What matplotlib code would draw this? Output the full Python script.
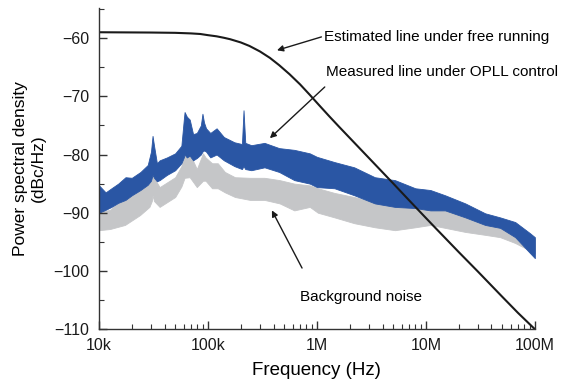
import matplotlib
matplotlib.use("Agg")
import matplotlib.pyplot as plt
from matplotlib.ticker import FixedLocator, LogLocator, NullFormatter, MultipleLocator

plt.rcParams['font.family'] = ['Liberation Sans', 'DejaVu Sans']

# estimated free-running line
est_freq = [1e4, 3e4, 5e4, 7e4, 8.5e4, 1e5, 1.2e5, 1.4e5, 1.6e5, 2e5, 2.4e5, 3e5, 3.7e5,
            4.5e5, 5.6e5, 7e5, 8.6e5, 1.05e6, 1.3e6, 1.6e6, 2e6, 2.5e6, 3e6, 4e6, 5e6,
            7e6, 1e7, 1.2e7, 2e7, 3e7, 5e7, 7e7, 1e8]
est_psd = [-59.0, -59.05, -59.1, -59.2, -59.3, -59.5, -59.7, -59.95, -60.2, -60.75, -61.35,
           -62.3, -63.4, -64.65, -66.2, -67.95, -69.75, -71.55, -73.45, -75.25, -77.15,
           -79.05, -80.6, -83.05, -84.95, -87.85, -90.9, -92.45, -96.75, -100.1, -104.4,
           -107.2, -110.0]

# measured under OPLL control: lower / upper edge of the noisy trace
opll_freq = [1.0e4, 1.15e4, 1.3e4, 1.5e4, 1.75e4, 2.0e4, 2.4e4, 2.8e4, 3.0e4, 3.1e4, 3.2e4,
             3.4e4, 3.6e4, 4.2e4, 5.0e4, 5.7e4, 6.0e4, 6.1e4, 6.4e4, 6.8e4, 7.3e4, 7.9e4,
             8.6e4, 8.9e4, 9.2e4, 9.6e4, 1.05e5, 1.2e5, 1.4e5, 1.75e5, 2.05e5, 2.12e5, 2.2e5,
             2.5e5, 3.3e5, 4.5e5, 6.2e5, 8.6e5, 1.0e6, 1.45e6, 2.2e6, 3.4e6, 5.2e6, 8.0e6,
             1.1e7, 1.5e7, 2.3e7, 3.5e7, 4.8e7, 6.6e7, 9.0e7, 1.0e8]
opll_low = [-90.0, -89.5, -89.0, -88.3, -87.8, -87.0, -86.1, -85.2, -84.5, -83.5, -84.0,
            -84.6, -84.4, -83.5, -82.7, -81.5, -80.5, -80.0, -80.5, -80.2, -81.0, -80.6,
            -80.0, -79.5, -79.3, -79.5, -80.5, -80.0, -81.0, -82.0, -82.5, -82.0, -82.5,
            -82.7, -82.2, -83.0, -84.4, -85.0, -85.6, -85.8, -87.0, -88.4, -89.0, -89.2,
            -89.6, -89.6, -90.8, -92.1, -92.6, -94.2, -96.9, -97.8]
opll_high = [-85.3, -86.5, -85.8, -85.0, -83.9, -84.0, -83.0, -81.8, -79.5, -76.8, -78.5,
             -81.5, -81.0, -80.5, -79.8, -78.5, -74.0, -72.7, -73.5, -74.0, -76.5, -76.3,
             -75.0, -73.0, -74.5, -75.5, -76.3, -75.5, -77.0, -77.9, -78.2, -72.4, -78.0,
             -78.4, -78.0, -78.9, -79.2, -79.8, -80.4, -81.3, -82.2, -83.9, -84.4, -85.8,
             -86.1, -87.0, -88.4, -90.1, -90.8, -91.6, -93.5, -94.2]

# background noise: lower / upper edge
bg_freq = [1.0e4, 1.26e4, 1.73e4, 2.38e4, 2.9e4, 3.05e4, 3.1e4, 3.2e4, 3.6e4, 5.0e4, 5.7e4,
           6.1e4, 6.8e4, 7.9e4, 9.0e4, 9.5e4, 1.09e5, 1.23e5, 1.43e5, 1.77e5, 2.43e5, 3.3e5,
           4.55e5, 6.2e5, 8.6e5, 1.02e6, 1.45e6, 2.2e6, 3.4e6, 5.2e6, 8.0e6, 1.1e7, 1.5e7,
           2.3e7, 3.5e7, 4.8e7, 6.6e7, 9.0e7, 1.0e8]
bg_low = [-93.0, -92.8, -92.1, -90.4, -89.0, -88.0, -87.0, -88.0, -89.0, -87.3, -85.5,
          -84.0, -83.9, -85.6, -84.5, -84.5, -85.8, -85.8, -86.5, -87.3, -87.8, -87.8,
          -88.4, -89.6, -89.0, -90.0, -90.8, -91.8, -92.5, -93.0, -92.5, -92.1, -92.6,
          -93.3, -93.8, -94.2, -95.2, -96.5, -97.0]
bg_high = [-89.9, -89.5, -87.3, -86.0, -84.5, -83.0, -82.0, -84.0, -85.6, -83.9, -82.0,
           -79.2, -79.8, -82.5, -79.8, -80.5, -81.5, -81.5, -83.0, -83.9, -84.0, -84.0,
           -84.4, -85.0, -85.3, -85.8, -86.6, -87.3, -88.2, -88.7, -89.2, -89.6, -89.6,
           -90.5, -91.5, -92.0, -93.0, -94.0, -94.5]

blue = '#2a56a4'
gray = '#c5c6c8'

fig = plt.figure(figsize=(5.69, 3.85), dpi=100)
ax = fig.add_axes([0.174, 0.145, 0.766, 0.834])

ax.fill_between(bg_freq, bg_low, bg_high, color=gray, lw=0.6, edgecolor=gray)
ax.fill_between(opll_freq, opll_low, opll_high, color=blue, lw=0.6, edgecolor=blue)
ax.plot(est_freq, est_psd, color='#1a1a1a', lw=1.5)

ax.set_xscale('log')
ax.set_xlim(1e4, 1e8)
ax.set_ylim(-110, -54.85)

ax.set_xticks([1e4, 1e5, 1e6, 1e7, 1e8])
ax.set_xticklabels(['10k', '100k', '1M', '10M', '100M'])
ax.xaxis.set_minor_locator(LogLocator(base=10, subs=range(2, 10)))
ax.xaxis.set_minor_formatter(NullFormatter())
ax.yaxis.set_major_locator(FixedLocator([-110, -100, -90, -80, -70, -60]))
ax.yaxis.set_minor_locator(MultipleLocator(5))

for s in ['top', 'right']:
    ax.spines[s].set_visible(False)
for s in ['left', 'bottom']:
    ax.spines[s].set_linewidth(1.0)
    ax.spines[s].set_color('#333333')

ax.tick_params(which='both', direction='in', colors='#333333', labelcolor='#1a1a1a')
ax.tick_params(axis='y', which='major', length=6, width=1.0, labelsize=11.5, pad=7)
ax.tick_params(axis='x', which='major', length=6, width=1.0, labelsize=11.5, pad=6)
ax.tick_params(which='minor', length=3.5, width=0.8)

ax.set_xlabel('Frequency (Hz)', fontsize=13.5, labelpad=7)
ax.set_ylabel('Power spectral density\n(dBc/Hz)', fontsize=12.5, labelpad=5, linespacing=1.3)

arrow = dict(arrowstyle='-|>', color='#1a1a1a', lw=1.0, mutation_scale=9, shrinkA=0, shrinkB=0)
ax.annotate('', xy=(4.3e5, -62.1), xytext=(1.1e6, -59.8), arrowprops=arrow)
ax.text(1.17e6, -59.8, 'Estimated line under free running', fontsize=11, va='center')
ax.annotate('', xy=(3.7e5, -77.2), xytext=(1.18e6, -68.4), arrowprops=arrow)
ax.text(1.21e6, -65.8, 'Measured line under OPLL control', fontsize=11, va='center')
ax.annotate('', xy=(3.86e5, -89.6), xytext=(7.3e5, -99.5), arrowprops=arrow)
ax.text(7.0e5, -104.5, 'Background noise', fontsize=11, va='center')

fig.savefig('out.png', dpi=100)
